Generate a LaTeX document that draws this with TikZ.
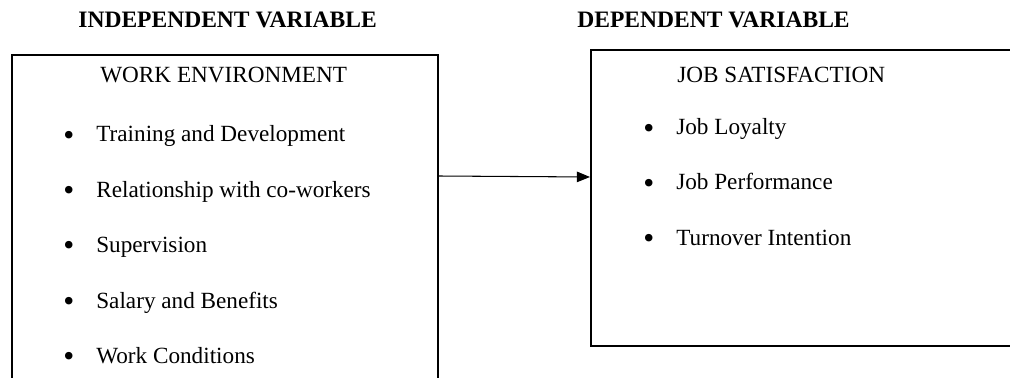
\documentclass[tikz,border=0pt]{standalone}
\usepackage{fontspec}
\usepackage{graphicx}
\setmainfont{Liberation Serif}
\usetikzlibrary{arrows.meta}
\usetikzlibrary{positioning}

\newcommand{\bul}{\makebox[0.66cm][l]{\raisebox{-2.2pt}{\scalebox{1.35}{\textbullet}}}}

\begin{document}
\begin{tikzpicture}[x=0.02cm,y=-0.02cm,
	       box/.style={draw, line width=0.9pt, inner sep=0},
	       head/.style={font=\fontsize{13.4}{16}\selectfont\bfseries, inner sep=0, anchor=base west},
	       item/.style={font=\fontsize{13.2}{16}\selectfont, inner sep=0, anchor=base west}]

	      \clip (0,0) rectangle (1010,378);

	      \node[box, minimum width=8.52cm, minimum height=7.2cm, anchor=north west] at (11,54) (1) {};
	      \node[box, minimum width=8.8cm, minimum height=5.92cm, anchor=north west] at (590,49) (2) {};

	      \node[head] at (78,28) (3) {INDEPENDENT VARIABLE};
	      \node[head] at (577,28) (4) {DEPENDENT VARIABLE};

	      \node[item] at (100,83) (5) {WORK ENVIRONMENT};
	      \node[item] at (677,83) (6) {JOB SATISFACTION};

	      \node[item] at (63,142) (7) {\bul Training and Development};
	      \node[item] at (63,197) (8) {\bul Relationship with co-workers};
	      \node[item] at (63,252) (9) {\bul Supervision};
	      \node[item] at (63,308) (10) {\bul Salary and Benefits};
	      \node[item] at (63,363) (11) {\bul Work Conditions};

	      \node[item] at (643,135) (12) {\bul Job Loyalty};
	      \node[item] at (643,190) (13) {\bul Job Performance};
	      \node[item] at (643,245) (14) {\bul Turnover Intention};

	      \draw[-{Triangle[length=7.5pt,width=6pt]}, line width=0.6pt]
	      (1.north east |- 0,176) -- (2.north west |- 0,177);

	    \end{tikzpicture}
\end{document}
